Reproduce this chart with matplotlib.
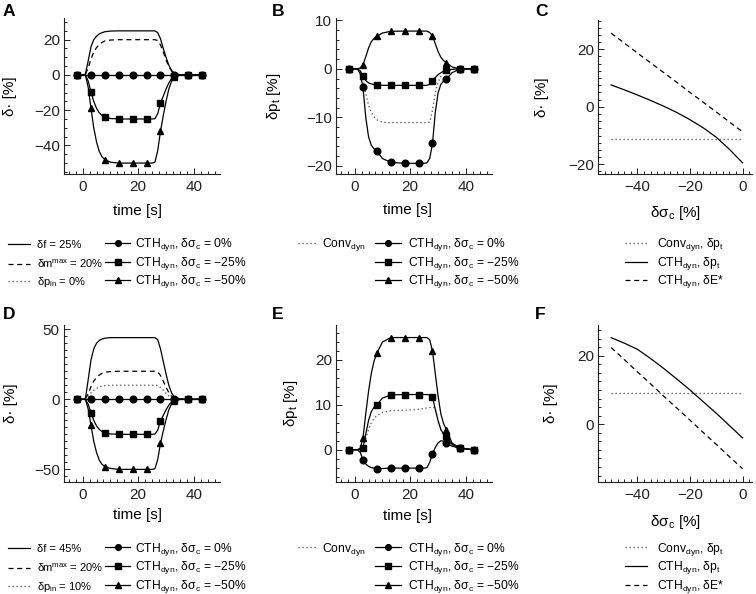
import matplotlib
matplotlib.use("Agg")
import matplotlib.pyplot as plt
from matplotlib.lines import Line2D
from matplotlib.ticker import MultipleLocator

plt.rcParams['font.family'] = ['Liberation Sans', 'DejaVu Sans']
plt.rcParams['mathtext.fontset'] = 'custom'
plt.rcParams['mathtext.rm'] = 'Liberation Sans'
plt.rcParams['mathtext.it'] = 'Liberation Sans:italic'
plt.rcParams['mathtext.bf'] = 'Liberation Sans:bold'

# ---------------- data ----------------
time_s = [-2, 0, 1, 2, 3, 4, 5, 6, 7, 8, 10, 13, 18, 23, 25, 26, 27, 28, 29, 30, 31, 32, 33, 35, 38, 43]
marker_times = [-2, 3, 8, 13, 18, 23, 28, 33, 38, 43]

# Panel A (scenario 1): delta values [%]
A_f = [0, 0, 0.5, 8, 16, 20, 22, 23.3, 24, 24.5, 24.9, 25, 25, 25, 25, 25, 24, 20.5, 15, 10, 5.5, 2.5, 0.8, 0.1, 0, 0]
A_m = [0, 0, 0.3, 4, 9, 13, 15.5, 17.3, 18.5, 19.3, 19.8, 20, 20, 20, 20, 20, 19.5, 17, 13, 8.5, 4.8, 2.2, 0.7, 0.1, 0, 0]
A_pin = [0, 0, 0, 0, 0, 0, 0, 0, 0, 0, 0, 0, 0, 0, 0, 0, 0, 0, 0, 0, 0, 0, 0, 0, 0, 0]
A_cth0 = [0, 0, 0, 0, 0, 0, 0, 0, 0, 0, 0, 0, 0, 0, 0, 0, 0, 0, 0, 0, 0, 0, 0, 0, 0, 0]
A_cth25 = [0, 0, 0, -3.5, -9.5, -15, -19, -21.5, -23, -24, -24.7, -25, -25, -25, -25, -24.8, -22, -16, -12, -8, -4.5, -2, -0.6, -0.1, 0, 0]
A_cth50 = [0, 0, 0, -7, -19, -30, -38, -43.5, -46.5, -48, -49.5, -50, -50, -50, -50, -49.5, -43, -32, -23, -15, -8, -3.5, -1, -0.1, 0, 0]

# Panel B (scenario 1): delta p_t [%]
B_conv = [0, 0, 0, -0.5, -2, -5, -7.5, -9, -9.9, -10.5, -11, -11.1, -11.1, -11.1, -11.1, -11.1, -11, -8.5, -5, -2.8, -1.5, -0.8, -0.4, -0.1, 0, 0]
B_cth0 = [0, 0, 0, -1, -3.8, -10, -14, -15.8, -16.5, -17, -18.5, -19.3, -19.5, -19.5, -19.5, -19.4, -18.5, -15.4, -9, -5, -3.2, -2.5, -2.1, -0.8, 0, 0]
B_cth25 = [0, 0, 0, -0.4, -1.5, -2.4, -2.9, -3.1, -3.25, -3.3, -3.4, -3.4, -3.4, -3.4, -3.4, -3.4, -3.2, -2.5, -1.8, -1.2, -0.8, -0.5, -0.3, -0.1, 0, 0]
B_cth50 = [0, 0, 0, 0.2, 0.8, 2.5, 4.3, 5.6, 6.3, 6.7, 7.4, 7.75, 7.8, 7.8, 7.8, 7.8, 7.5, 6.8, 5.2, 3.6, 2.4, 1.7, 1.3, 0.4, 0, 0]

# Panel D (scenario 2): delta values [%]
D_f = [0, 0, 0.5, 14, 28, 36, 40, 42, 43, 43.6, 44, 44, 44, 44, 44, 44, 42.5, 36, 27, 18, 10, 4.5, 1.5, 0.2, 0, 0]
D_m = [0, 0, 0.3, 4, 9, 13, 15.5, 17.3, 18.5, 19.3, 19.8, 20, 20, 20, 20, 20, 19.5, 17, 13, 8.5, 4.8, 2.2, 0.7, 0.1, 0, 0]
D_pin = [0, 0, 0.2, 2, 4.5, 6.5, 7.8, 8.8, 9.4, 9.7, 10, 10, 10, 10, 10, 10, 9.8, 8.5, 6.5, 4.3, 2.4, 1.1, 0.4, 0, 0, 0]
D_cth0 = [0, 0, 0, 0, 0, 0, 0, 0, 0, 0, 0, 0, 0, 0, 0, 0, 0, 0, 0, 0, 0, 0, 0, 0, 0, 0]
D_cth25 = [0, 0, 0, -3.5, -9.5, -15, -19, -21.5, -23, -24, -24.7, -25, -25, -25, -25, -24.8, -22, -15.5, -11.5, -7.5, -4.2, -1.8, -0.6, -0.1, 0, 0]
D_cth50 = [0, 0, 0, -7, -18.6, -30, -38, -43.5, -46.5, -48, -49.3, -50, -50, -50, -50, -49.5, -43, -31.5, -22.5, -14.5, -7.5, -3.2, -1, -0.1, 0, 0]

# Panel E (scenario 2): delta p_t [%]
E_conv = [0, 0, 0, 0, 0.3, 2.5, 4.5, 6, 7, 7.6, 8.3, 8.7, 8.8, 9.0, 9.2, 9.3, 9.4, 9.5, 9.3, 6.5, 4.5, 3.2, 2.5, 0.9, 0.2, 0]
E_cth0 = [0, 0, 0, -0.6, -2.2, -3.2, -3.7, -4, -4.1, -4.2, -4.2, -4.1, -4.1, -4.1, -4.1, -4.0, -2.8, -1.0, 0.5, 1.5, 2, 1.9, 1.4, 0.8, 0.3, 0]
E_cth25 = [0, 0, 0, 0.05, 0.3, 3.5, 6.5, 8.5, 9.5, 10, 11.5, 12.2, 12.3, 12.3, 12.3, 12.3, 12.2, 11.7, 9, 6.5, 4.5, 3.5, 3, 1.2, 0.3, 0]
E_cth50 = [0, 0, 0, 0.3, 2.6, 8, 13, 17, 19.8, 21.5, 24, 25, 25, 25, 25, 25, 24.5, 22, 17, 12, 8, 5.8, 4.5, 1.5, 0.3, 0]

# Panels C and F: steady-state vs delta sigma_c [%]
sigma_c = [-50, -45, -40, -35, -30, -25, -20, -15, -10, -5, 0]
C_conv_pt = [-11.1, -11.1, -11.1, -11.1, -11.1, -11.1, -11.1, -11.1, -11.1, -11.1, -11.1]
C_cth_pt = [7.6, 5.9, 4.1, 2.2, 0.2, -2.0, -4.5, -7.3, -10.6, -14.8, -19.5]
C_cth_E = [25.6, 22.2, 18.7, 15.3, 11.9, 8.5, 5.0, 1.6, -1.8, -5.3, -8.7]
F_conv_pt = [9.0, 9.0, 9.0, 9.0, 9.0, 9.0, 9.0, 9.0, 9.0, 9.0, 9.0]
F_cth_pt = [25.3, 23.7, 21.9, 19.2, 16.3, 13.2, 10.0, 6.6, 3.2, -0.4, -4.0]
F_cth_E = [22.4, 18.9, 15.3, 11.8, 8.2, 4.7, 1.2, -2.4, -5.9, -9.5, -13.0]

legend_inputs_1 = ["δf = 25%", "δm$^{\\mathrm{max}}$ = 20%", "δp$_{\\mathrm{in}}$ = 0%"]
legend_inputs_2 = ["δf = 45%", "δm$^{\\mathrm{max}}$ = 20%", "δp$_{\\mathrm{in}}$ = 10%"]
legend_cth = ["CTH$_{\\mathrm{dyn}}$, δσ$_{\\mathrm{c}}$ = 0%",
              "CTH$_{\\mathrm{dyn}}$, δσ$_{\\mathrm{c}}$ = −25%",
              "CTH$_{\\mathrm{dyn}}$, δσ$_{\\mathrm{c}}$ = −50%"]
legend_conv = ["Conv$_{\\mathrm{dyn}}$"]
legend_ss = ["Conv$_{\\mathrm{dyn}}$, δp$_{\\mathrm{t}}$", "CTH$_{\\mathrm{dyn}}$, δp$_{\\mathrm{t}}$",
             "CTH$_{\\mathrm{dyn}}$, δE*"]

# ---------------- styling ----------------
W, H = 756, 594
fig = plt.figure(figsize=(W / 100, H / 100), dpi=100)

LW = 0.9
DOT = (0, (1, 2.2))
DASH = (0, (4, 3))
MS = {'o': 4.8, 's': 4.8, '^': 4.4}
mk_idx = [time_s.index(v) for v in marker_times]
TICK_FS = 11
LAB = 11


def add_ax(l, t, r, b):
    return fig.add_axes([l / W, 1 - b / H, (r - l) / W, (b - t) / H])


def style(ax, xlim, ylim, xmaj, xmin, ymaj, ymin):
    ax.set_xlim(*xlim)
    ax.set_ylim(*ylim)
    for s in ['top', 'right']:
        ax.spines[s].set_visible(False)
    for s in ['left', 'bottom']:
        ax.spines[s].set_linewidth(0.8)
        ax.spines[s].set_color('#222222')
    ax.xaxis.set_major_locator(MultipleLocator(xmaj))
    ax.xaxis.set_minor_locator(MultipleLocator(xmin))
    ax.yaxis.set_major_locator(MultipleLocator(ymaj))
    ax.yaxis.set_minor_locator(MultipleLocator(ymin))
    ax.tick_params(which='both', direction='in', width=0.7, labelsize=TICK_FS, colors='#222222')
    ax.tick_params(which='major', length=4.5)
    ax.tick_params(which='minor', length=2.2)
    ax.tick_params(axis='x', pad=4.5)
    ax.tick_params(axis='y', pad=3)
    ax.patch.set_alpha(0)


def mline(ax, y, m):
    ax.plot(time_s, y, color='k', lw=LW, marker=m, ms=MS[m], markevery=mk_idx,
            mfc='k', mec='k', clip_on=False)


def time_panel_inputs(ax, f, m, pin, c0, c25, c50):
    ax.plot(time_s, f, color='k', lw=LW, ls='-')
    ax.plot(time_s, m, color='k', lw=LW, ls=DASH)
    ax.plot(time_s, pin, color='#444444', lw=LW, ls=DOT)
    mline(ax, c50, '^')
    mline(ax, c0, 'o')
    mline(ax, c25, 's')


def time_panel_pt(ax, conv, c0, c25, c50):
    ax.plot(time_s, conv, color='#444444', lw=LW, ls=DOT)
    mline(ax, c50, '^')
    mline(ax, c0, 'o')
    mline(ax, c25, 's')


def ss_panel(ax, conv, pt, E):
    ax.plot(sigma_c, conv, color='#444444', lw=LW, ls=DOT)
    ax.plot(sigma_c, pt, color='k', lw=LW, ls='-')
    ax.plot(sigma_c, E, color='k', lw=LW, ls=DASH)


TL = (-6.7, 49.4)
SL = (-55, 3.6)

axA = add_ax(64, 18, 220, 174)
time_panel_inputs(axA, A_f, A_m, A_pin, A_cth0, A_cth25, A_cth50)
style(axA, TL, (-56.2, 32.3), 20, 2.5, 20, 5)

axB = add_ax(336, 18, 492, 174)
time_panel_pt(axB, B_conv, B_cth0, B_cth25, B_cth50)
style(axB, TL, (-21.7, 10.5), 20, 2.5, 10, 2)

axC = add_ax(598, 20, 752, 174)
ss_panel(axC, C_conv_pt, C_cth_pt, C_cth_E)
style(axC, SL, (-23.4, 30.2), 20, 2.5, 20, 2.5)

axD = add_ax(64, 325, 220, 482)
time_panel_inputs(axD, D_f, D_m, D_pin, D_cth0, D_cth25, D_cth50)
style(axD, TL, (-59, 53), 20, 2.5, 50, 5)

axE = add_ax(336, 325, 492, 482)
time_panel_pt(axE, E_conv, E_cth0, E_cth25, E_cth50)
style(axE, TL, (-7.2, 27.8), 20, 2.5, 10, 2)

axF = add_ax(598, 325, 752, 482)
ss_panel(axF, F_conv_pt, F_cth_pt, F_cth_E)
style(axF, SL, (-16.9, 29), 20, 2.5, 20, 2.5)

ylab_dot = "δ· [%]"
ylab_pt = "δp$_{\\mathrm{t}}$ [%]"
for ax, yl, yx, xl, xx, xy in [
    (axA, ylab_dot, -0.30, "time [s]", 0.47, -0.195),
    (axB, ylab_pt, -0.34, "time [s]", 0.46, -0.185),
    (axC, ylab_dot, -0.315, "δσ$_{\\mathrm{c}}$ [%]", 0.5, -0.195),
    (axD, ylab_dot, -0.295, "time [s]", 0.47, -0.165),
    (axE, ylab_pt, -0.23, "time [s]", 0.46, -0.175),
    (axF, ylab_dot, -0.26, "δσ$_{\\mathrm{c}}$ [%]", 0.5, -0.195),
]:
    ax.set_ylabel(yl, fontsize=LAB)
    ax.yaxis.set_label_coords(yx, 0.5)
    ax.set_xlabel(xl, fontsize=LAB)
    ax.xaxis.set_label_coords(xx, xy)

for letter, x, y in [("A", 3, 4), ("B", 272, 4), ("C", 535, 4),
                     ("D", 3, 307), ("E", 272, 307), ("F", 535, 307)]:
    fig.text(x / W, 1 - y / H, letter, fontsize=12.5, fontweight='bold',
             ha='left', va='top')

# ---------------- legends ----------------
LFS = 8.7


def h_line(ls, color='k'):
    return Line2D([], [], color=color, lw=LW, ls=ls)


def h_mark(m):
    return Line2D([], [], color='k', lw=LW, marker=m, ms=MS[m] * 0.85, mfc='k', mec='k')


def put_entry(handle, label, x, yc, hlen_px, pad_px, fs):
    fs_px = fs * 100 / 72
    fig.legend([handle], [label], loc='center left', bbox_to_anchor=(x / W, 1 - yc / H),
               frameon=False, borderpad=0, borderaxespad=0, fontsize=fs,
               handlelength=hlen_px / fs_px, handletextpad=pad_px / fs_px,
               numpoints=1, handleheight=0.6)


def put_column(handles, labels, x, rows, hlen_px, pad_px, fs=LFS):
    for h, lab, yc in zip(handles, labels, rows):
        put_entry(h, lab, x, yc, hlen_px, pad_px, fs)


for labels_in, rows in [(legend_inputs_1, (245, 263.5, 282)), (legend_inputs_2, (549, 568, 586.5))]:
    put_column([h_line('-'), h_line(DASH), h_line(DOT, '#444444')], labels_in, 8, rows, 22, 7, 8.0)
    put_column([h_mark('o'), h_mark('s'), h_mark('^')], legend_cth, 105, rows, 25, 5)
    put_column([h_line(DOT, '#444444')], legend_conv, 298, rows, 20, 4)
    put_column([h_mark('o'), h_mark('s'), h_mark('^')], legend_cth, 375, rows, 26, 7)
    put_column([h_line(DOT, '#444444'), h_line('-'), h_line(DASH)], legend_ss, 625, rows, 22, 10)

fig.savefig("out.png", dpi=100)
